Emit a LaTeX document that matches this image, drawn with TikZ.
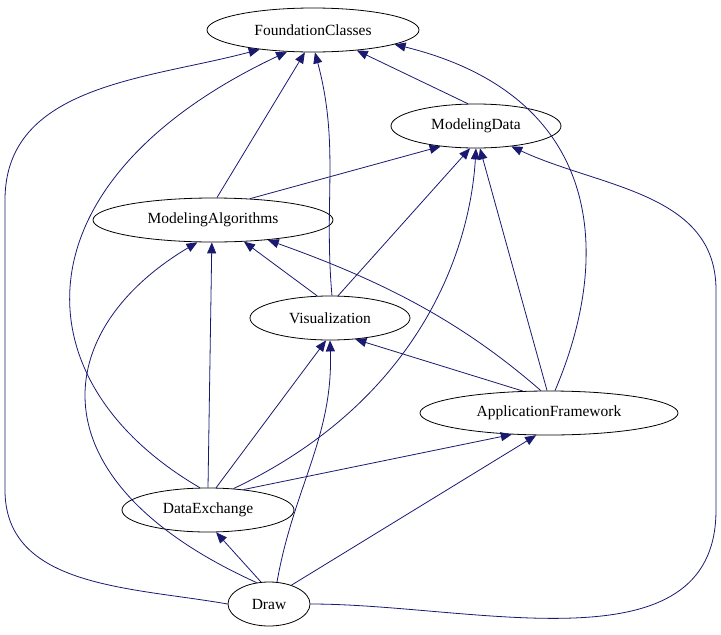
\documentclass[tikz,border=0pt]{standalone}
\usepackage{fontspec}
\setmainfont{Liberation Serif}
\usetikzlibrary{shapes.geometric,arrows.meta}
\definecolor{edge}{RGB}{25,25,112}
\begin{document}
\begin{tikzpicture}[x=1pt,y=-1pt,
  n/.style={ellipse,draw,thick,inner sep=0pt,minimum height=44pt,font=\fontsize{15.5pt}{17pt}\selectfont},
  e/.style={draw=edge,thick,-{Triangle[length=11pt,width=9pt,fill=edge]}}]
\useasboundingbox (0,0) rectangle (721,635);
\node[n,minimum width=212pt] (FC) at (313,30) {FoundationClasses};
\node[n,minimum width=170pt] (MD) at (476,126) {ModelingData};
\node[n,minimum width=240pt] (MA) at (213,220) {ModelingAlgorithms};
\node[n,minimum width=160pt] (VI) at (330,318) {Visualization};
\node[n,minimum width=258pt] (AF) at (549,413) {ApplicationFramework};
\node[n,minimum width=172pt] (DE) at (208,510) {DataExchange};
\node[n,minimum width=82pt] (DR) at (269,604) {Draw};
\coordinate (L1) at (5,490);
\coordinate (L2) at (5,200);
\coordinate (R1) at (716,510);
\coordinate (R2) at (716,290);
\draw[e] (MD.110) -- (FC.-25);
\draw[e] (MA.80) -- (FC.-110);
\draw[e] (VI.85) to[out=95,in=-75] (FC.-85);
\draw[e] (AF.75) .. controls (615,250) and (600,95) .. (FC.-10);
\draw[e] (DE.110) .. controls (15,380) and (15,180) .. (FC.-140);
\draw[e] (DR.west) to[out=170,in=-90] (L1) -- (L2) to[out=90,in=-165] (FC.-160);
\draw[e] (MA.30) -- (MD.-150);
\draw[e] (VI.70) -- (MD.-105);
\draw[e] (AF.95) -- (MD.-80);
\draw[e] (DE.40) .. controls (420,400) and (470,250) .. (MD.-90);
\draw[e] (DR.east) to[out=0,in=-90] (R1) -- (R2) to[out=90,in=-25] (MD.-30);
\draw[e] (VI.120) -- (MA.-35);
\draw[e] (AF.110) .. controls (460,320) and (380,280) .. (MA.-20);
\draw[e] (DE.90) -- (MA.-93);
\draw[e] (DR.120) .. controls (30,480) and (50,330) .. (MA.-125);
\draw[e] (AF.140) -- (VI.-40);
\draw[e] (DE.70) -- (VI.-100);
\draw[e] (DR.70) to[out=80,in=-88] (VI.-90);
\draw[e] (DE.30) -- (AF.-150);
\draw[e] (DR.40) -- (AF.-120);
\draw[e] (DR.110) -- (DE.-70);
\end{tikzpicture}
\end{document}
